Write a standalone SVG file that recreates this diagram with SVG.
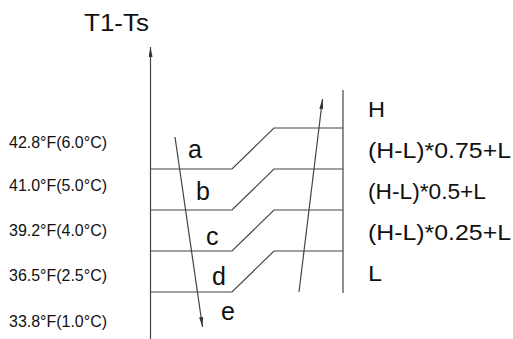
<svg xmlns="http://www.w3.org/2000/svg" width="513" height="339" viewBox="0 0 513 339">
<defs>
<marker id="ah" viewBox="0 0 10 4" refX="10" refY="2" markerWidth="10" markerHeight="4" markerUnits="userSpaceOnUse" orient="auto">
<path d="M0,0 L10,2 L0,4 Z" fill="#333"/>
</marker>
<style>
.ln{stroke:#444;stroke-width:1.2;fill:none}
.t{font-family:"Liberation Sans",Arial,sans-serif;fill:#111}
.tl{font-size:17px}
.tr{font-size:22px}
.tx{font-size:25px}
</style>
</defs>
<rect width="513" height="339" fill="#fff"/>
<g id="title"><text class="t" x="84" y="31" font-size="24" textLength="65" lengthAdjust="spacingAndGlyphs">T1-Ts</text></g>
<g id="connectors">
<line class="ln" x1="150.5" y1="339" x2="150.5" y2="47" marker-end="url(#ah)"/>
<line class="ln" x1="343" y1="90" x2="343" y2="293"/>
<polyline class="ln" points="150.5,169 232,169 274,128 343,128"/>
<polyline class="ln" points="150.5,210 232,210 274,169 343,169"/>
<polyline class="ln" points="150.5,251 232,251 274,210 343,210"/>
<polyline class="ln" points="150.5,292 232,292 274,251 343,251"/>
<line class="ln" x1="175" y1="137" x2="202.5" y2="327" marker-end="url(#ah)"/>
<line class="ln" x1="299" y1="292" x2="322.5" y2="99" marker-end="url(#ah)"/>
</g>
<g id="left-labels">
<text class="t tl" x="9" y="148" textLength="98" lengthAdjust="spacingAndGlyphs">42.8°F(6.0°C)</text>
<text class="t tl" x="9" y="191" textLength="98" lengthAdjust="spacingAndGlyphs">41.0°F(5.0°C)</text>
<text class="t tl" x="9" y="236" textLength="98" lengthAdjust="spacingAndGlyphs">39.2°F(4.0°C)</text>
<text class="t tl" x="9" y="281" textLength="98" lengthAdjust="spacingAndGlyphs">36.5°F(2.5°C)</text>
<text class="t tl" x="9" y="327" textLength="98" lengthAdjust="spacingAndGlyphs">33.8°F(1.0°C)</text>
</g>
<g id="zones">
<text class="t tx" x="188" y="158">a</text>
<text class="t tx" x="196" y="200">b</text>
<text class="t tx" x="206" y="245">c</text>
<text class="t tx" x="212" y="285">d</text>
<text class="t tx" x="221" y="320">e</text>
</g>
<g id="right-labels">
<text class="t tr" x="368" y="117" textLength="17" lengthAdjust="spacingAndGlyphs">H</text>
<text class="t tr" x="368" y="158" textLength="143" lengthAdjust="spacingAndGlyphs">(H-L)*0.75+L</text>
<text class="t tr" x="368" y="199" textLength="118" lengthAdjust="spacingAndGlyphs">(H-L)*0.5+L</text>
<text class="t tr" x="368" y="240" textLength="143" lengthAdjust="spacingAndGlyphs">(H-L)*0.25+L</text>
<text class="t tr" x="368" y="281" textLength="14" lengthAdjust="spacingAndGlyphs">L</text>
</g>
</svg>
